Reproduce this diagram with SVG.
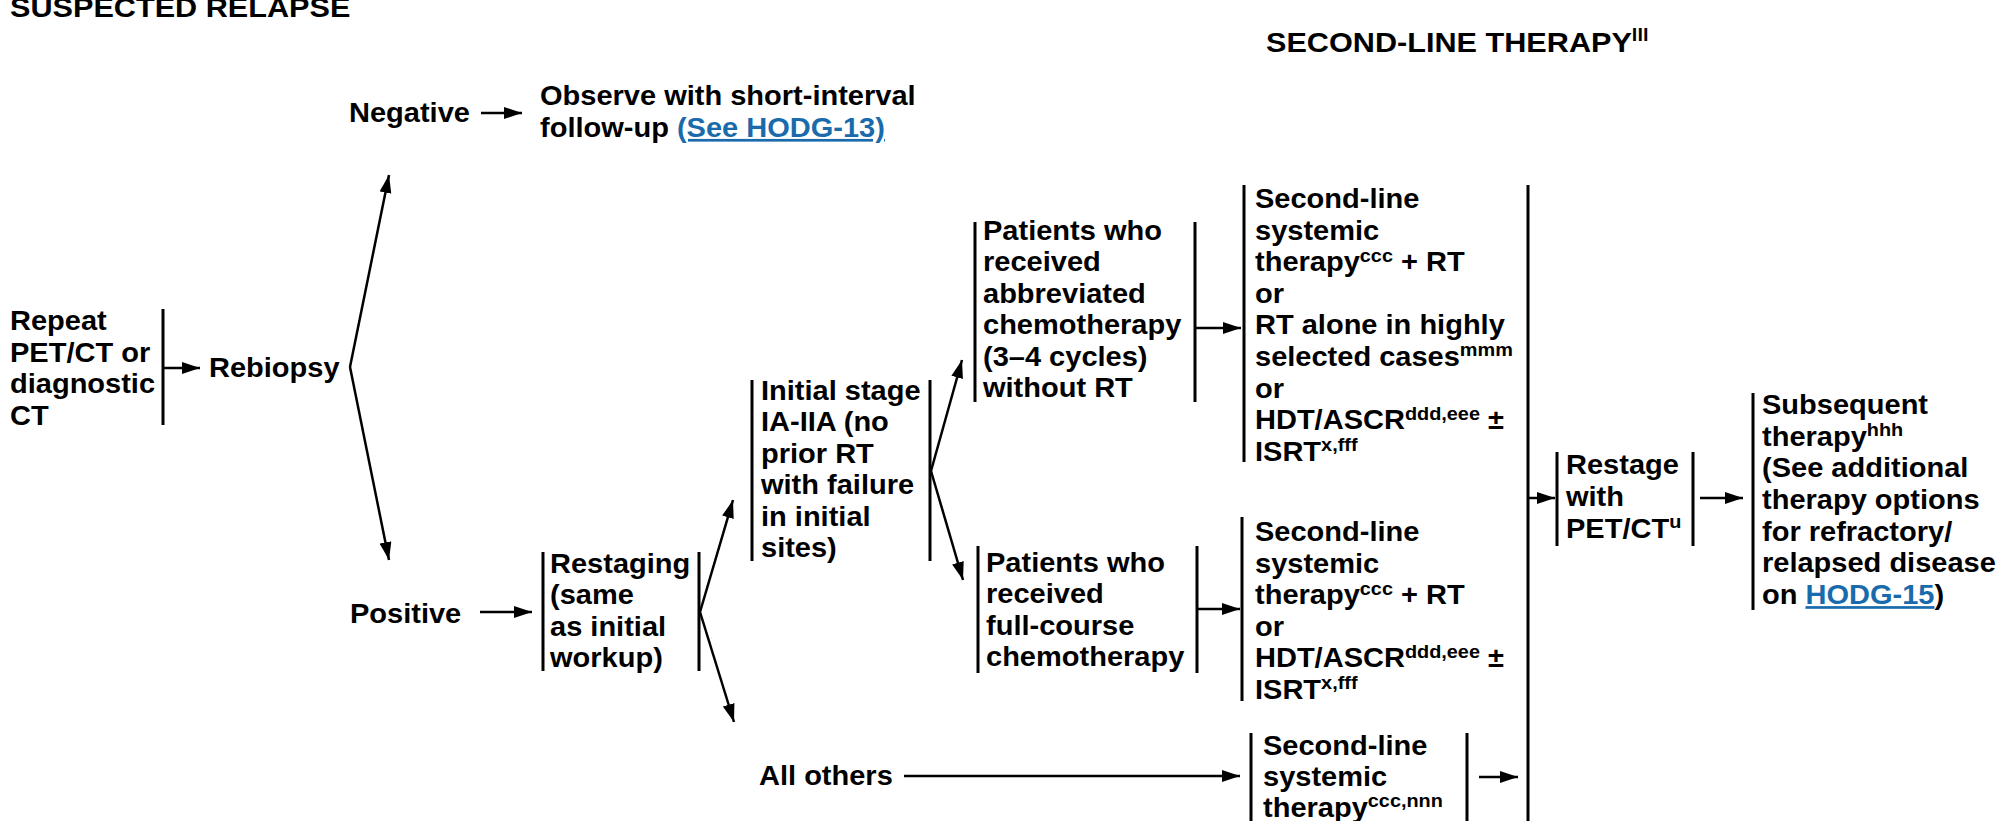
<svg xmlns="http://www.w3.org/2000/svg" width="1999" height="821" viewBox="0 0 1999 821">
<style>
  .t{font-family:"Liberation Sans",Arial,sans-serif;font-weight:bold;font-size:27px;fill:#000}
  .h{font-size:28.5px}
  .sup{font-size:18.5px}
  .lnk{fill:#1a6bab;text-decoration:underline}
  .bar{stroke:#000;stroke-width:3;fill:none}
  .c{stroke:#000;stroke-width:2.5;fill:none}
  .ca{stroke:#000;stroke-width:2.5;fill:none;marker-end:url(#ah)}
</style>
<defs>
  <marker id="ah" viewBox="0 0 18 12" markerWidth="18" markerHeight="12" markerUnits="userSpaceOnUse" refX="18" refY="6" orient="auto">
    <path d="M0,0 L18,6 L0,12 Z" fill="#000"/>
  </marker>
</defs>
<rect width="1999" height="821" fill="#fff"/>

<g id="header-left">
  <text class="t h" transform="translate(10,17) scale(1.075,1)"><tspan x="0" y="0">SUSPECTED RELAPSE</tspan></text>
</g>
<g id="header-right">
  <text class="t h" transform="translate(1266,52) scale(1.075,1)"><tspan x="0" y="0">SECOND-LINE THERAPY<tspan class="sup" baseline-shift="11">lll</tspan></tspan></text>
</g>

<g id="node-repeat">
  <text class="t" transform="translate(10,330) scale(1.075,1)">
    <tspan x="0" y="0">Repeat</tspan>
    <tspan x="0" y="31.6">PET/CT or</tspan>
    <tspan x="0" y="63.2">diagnostic</tspan>
    <tspan x="0" y="94.8">CT</tspan>
  </text>
  <line class="bar" x1="163" y1="309" x2="163" y2="425"/>
</g>

<g id="node-rebiopsy">
  <text class="t" transform="translate(209,377) scale(1.075,1)"><tspan x="0" y="0">Rebiopsy</tspan></text>
</g>

<g id="node-negative">
  <text class="t" transform="translate(349,122) scale(1.075,1)"><tspan x="0" y="0">Negative</tspan></text>
</g>

<g id="node-observe">
  <text class="t" transform="translate(540,105) scale(1.075,1)">
    <tspan x="0" y="0">Observe with short-interval</tspan>
    <tspan x="0" y="32">follow-up <tspan class="lnk">(See HODG-13)</tspan></tspan>
  </text>
</g>

<g id="node-positive">
  <text class="t" transform="translate(350,623) scale(1.075,1)"><tspan x="0" y="0">Positive</tspan></text>
</g>

<g id="node-restaging">
  <line class="bar" x1="543" y1="552" x2="543" y2="671"/>
  <text class="t" transform="translate(550,573) scale(1.075,1)">
    <tspan x="0" y="0">Restaging</tspan>
    <tspan x="0" y="31.3">(same</tspan>
    <tspan x="0" y="62.6">as initial</tspan>
    <tspan x="0" y="93.9">workup)</tspan>
  </text>
  <line class="bar" x1="699" y1="552" x2="699" y2="671"/>
</g>

<g id="node-initial-stage">
  <line class="bar" x1="752" y1="380" x2="752" y2="561"/>
  <text class="t" transform="translate(761,400) scale(1.075,1)">
    <tspan x="0" y="0">Initial stage</tspan>
    <tspan x="0" y="31.4">IA-IIA (no</tspan>
    <tspan x="0" y="62.8">prior RT</tspan>
    <tspan x="0" y="94.2">with failure</tspan>
    <tspan x="0" y="125.6">in initial</tspan>
    <tspan x="0" y="157">sites)</tspan>
  </text>
  <line class="bar" x1="930" y1="380" x2="930" y2="561"/>
</g>

<g id="node-all-others">
  <text class="t" transform="translate(759,785) scale(1.075,1)"><tspan x="0" y="0">All others</tspan></text>
</g>

<g id="node-abbreviated">
  <line class="bar" x1="975" y1="222" x2="975" y2="402"/>
  <text class="t" transform="translate(983,240) scale(1.075,1)">
    <tspan x="0" y="0">Patients who</tspan>
    <tspan x="0" y="31.5">received</tspan>
    <tspan x="0" y="63">abbreviated</tspan>
    <tspan x="0" y="94.5">chemotherapy</tspan>
    <tspan x="0" y="126">(3–4 cycles)</tspan>
    <tspan x="0" y="157.5">without RT</tspan>
  </text>
  <line class="bar" x1="1195" y1="222" x2="1195" y2="402"/>
</g>

<g id="node-full-course">
  <line class="bar" x1="978" y1="546" x2="978" y2="673"/>
  <text class="t" transform="translate(986,572) scale(1.075,1)">
    <tspan x="0" y="0">Patients who</tspan>
    <tspan x="0" y="31.5">received</tspan>
    <tspan x="0" y="63">full-course</tspan>
    <tspan x="0" y="94.5">chemotherapy</tspan>
  </text>
  <line class="bar" x1="1197" y1="546" x2="1197" y2="673"/>
</g>

<g id="node-second-line-top">
  <line class="bar" x1="1244" y1="185" x2="1244" y2="462"/>
  <text class="t" transform="translate(1255,208) scale(1.075,1)">
    <tspan x="0" y="0">Second-line</tspan>
    <tspan x="0" y="31.6">systemic</tspan>
    <tspan x="0" y="63.2">therapy<tspan class="sup" baseline-shift="10">ccc</tspan> + RT</tspan>
    <tspan x="0" y="94.8">or</tspan>
    <tspan x="0" y="126.4">RT alone in highly</tspan>
    <tspan x="0" y="158">selected cases<tspan class="sup" baseline-shift="10">mmm</tspan></tspan>
    <tspan x="0" y="189.6">or</tspan>
    <tspan x="0" y="221.2">HDT/ASCR<tspan class="sup" baseline-shift="10">ddd,eee</tspan> ±</tspan>
    <tspan x="0" y="252.8">ISRT<tspan class="sup" baseline-shift="10">x,fff</tspan></tspan>
  </text>
</g>

<g id="node-second-line-mid">
  <line class="bar" x1="1242" y1="517" x2="1242" y2="701"/>
  <text class="t" transform="translate(1255,541) scale(1.075,1)">
    <tspan x="0" y="0">Second-line</tspan>
    <tspan x="0" y="31.6">systemic</tspan>
    <tspan x="0" y="63.2">therapy<tspan class="sup" baseline-shift="10">ccc</tspan> + RT</tspan>
    <tspan x="0" y="94.8">or</tspan>
    <tspan x="0" y="126.4">HDT/ASCR<tspan class="sup" baseline-shift="10">ddd,eee</tspan> ±</tspan>
    <tspan x="0" y="158">ISRT<tspan class="sup" baseline-shift="10">x,fff</tspan></tspan>
  </text>
</g>

<g id="node-second-line-bottom">
  <line class="bar" x1="1251" y1="733" x2="1251" y2="821"/>
  <text class="t" transform="translate(1263,755) scale(1.075,1)">
    <tspan x="0" y="0">Second-line</tspan>
    <tspan x="0" y="31">systemic</tspan>
    <tspan x="0" y="62">therapy<tspan class="sup" baseline-shift="10">ccc,nnn</tspan></tspan>
  </text>
  <line class="bar" x1="1467" y1="733" x2="1467" y2="821"/>
</g>

<g id="node-restage">
  <line class="bar" x1="1557" y1="452" x2="1557" y2="546"/>
  <text class="t" transform="translate(1566,474) scale(1.075,1)">
    <tspan x="0" y="0">Restage</tspan>
    <tspan x="0" y="32">with</tspan>
    <tspan x="0" y="64">PET/CT<tspan class="sup" baseline-shift="10">u</tspan></tspan>
  </text>
  <line class="bar" x1="1693" y1="452" x2="1693" y2="546"/>
</g>

<g id="node-subsequent">
  <line class="bar" x1="1753" y1="393" x2="1753" y2="610"/>
  <text class="t" transform="translate(1762,414) scale(1.075,1)">
    <tspan x="0" y="0">Subsequent</tspan>
    <tspan x="0" y="31.7">therapy<tspan class="sup" baseline-shift="10">hhh</tspan></tspan>
    <tspan x="0" y="63.4">(See additional</tspan>
    <tspan x="0" y="95.1">therapy options</tspan>
    <tspan x="0" y="126.8">for refractory/</tspan>
    <tspan x="0" y="158.5">relapsed disease</tspan>
    <tspan x="0" y="190.2">on <tspan class="lnk">HODG-15</tspan>)</tspan>
  </text>
</g>

<g id="connectors">
  <line class="ca" x1="163" y1="368" x2="200" y2="368"/>
  <line class="ca" x1="350" y1="367" x2="389" y2="175"/>
  <line class="ca" x1="350" y1="367" x2="389" y2="560"/>
  <line class="ca" x1="481" y1="113" x2="522" y2="113"/>
  <line class="ca" x1="480" y1="612" x2="532" y2="612"/>
  <line class="ca" x1="700" y1="612" x2="733" y2="500"/>
  <line class="ca" x1="700" y1="612" x2="734" y2="722"/>
  <line class="ca" x1="931" y1="471" x2="962" y2="360"/>
  <line class="ca" x1="931" y1="471" x2="963" y2="580"/>
  <line class="ca" x1="1195" y1="328" x2="1241" y2="328"/>
  <line class="ca" x1="1197" y1="609" x2="1240" y2="609"/>
  <line class="ca" x1="904" y1="776" x2="1240" y2="776"/>
  <line class="ca" x1="1479" y1="777" x2="1518" y2="777"/>
  <line class="bar" x1="1528" y1="185" x2="1528" y2="821"/>
  <line class="ca" x1="1528" y1="498" x2="1555" y2="498"/>
  <line class="ca" x1="1700" y1="498" x2="1743" y2="498"/>
</g>
</svg>
